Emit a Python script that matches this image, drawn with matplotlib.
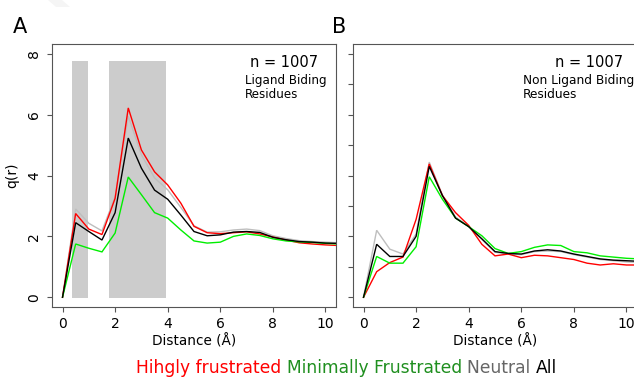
import matplotlib
matplotlib.use("Agg")
import matplotlib.pyplot as plt
from matplotlib.patches import Polygon

# distance grid (Angstrom)
dist = [0, 0.5, 1, 1.5, 2, 2.5, 3, 3.5, 4, 4.5, 5, 5.5, 6, 6.5, 7, 7.5,
        8, 8.5, 9, 9.5, 10, 10.5]

# panel A - ligand binding residues
a_neutral = [0, 2.90, 2.43, 2.18, 3.30, 5.95, 4.68, 3.92, 3.53, 2.95, 2.35,
             2.14, 2.15, 2.21, 2.24, 2.19, 2.02, 1.93, 1.86, 1.83, 1.81, 1.79]
a_high = [0, 2.75, 2.24, 2.06, 3.25, 6.22, 4.84, 4.12, 3.69, 3.09, 2.33,
          2.12, 2.09, 2.12, 2.15, 2.08, 1.98, 1.88, 1.79, 1.75, 1.72, 1.70]
a_all = [0, 2.45, 2.16, 1.88, 2.78, 5.23, 4.24, 3.52, 3.22, 2.70, 2.16,
         2.02, 2.05, 2.14, 2.16, 2.13, 1.97, 1.89, 1.83, 1.81, 1.78, 1.77]
a_min = [0, 1.75, 1.61, 1.49, 2.11, 3.95, 3.37, 2.78, 2.60, 2.21, 1.85,
         1.78, 1.81, 2.00, 2.08, 2.03, 1.92, 1.85, 1.82, 1.80, 1.77, 1.75]

# panel B - non ligand binding residues
b_neutral = [0, 1.10, 0.79, 0.71, 1.04, 2.22, 1.68, 1.32, 1.16, 0.95, 0.74,
             0.71, 0.70, 0.75, 0.76, 0.75, 0.70, 0.66, 0.62, 0.60, 0.58, 0.57]
b_high = [0, 0.42, 0.57, 0.66, 1.28, 2.19, 1.67, 1.39, 1.18, 0.87, 0.68,
          0.71, 0.65, 0.69, 0.68, 0.65, 0.62, 0.56, 0.53, 0.55, 0.53, 0.53]
b_all = [0, 0.87, 0.67, 0.67, 1.00, 2.15, 1.67, 1.30, 1.16, 0.96, 0.75,
         0.72, 0.71, 0.76, 0.78, 0.76, 0.71, 0.67, 0.63, 0.61, 0.60, 0.59]
b_min = [0, 0.67, 0.56, 0.56, 0.83, 1.98, 1.61, 1.30, 1.16, 1.01, 0.80,
         0.72, 0.75, 0.82, 0.86, 0.85, 0.75, 0.73, 0.68, 0.66, 0.64, 0.63]

# shaded distance windows in panel A
shade_spans = [(0.35, 0.95), (1.75, 3.95)]
shade_bottom, shade_top = -0.03, 7.75

legend_words = ["Hihgly frustrated ", "Minimally Frustrated ", "Neutral ", "All"]
legend_colors = ["#ff0000", "#1f8f1f", "#666666", "#000000"]

W, H = 634, 377
fig = plt.figure(figsize=(W / 100, H / 100), dpi=100)


def box(x0, y0, x1, y1):
    return [x0 / W, 1 - y1 / H, (x1 - x0) / W, (y1 - y0) / H]


axA = fig.add_axes(box(52, 44, 336, 307))
axB = fig.add_axes(box(353, 44, 637, 307))


def style(ax):
    for s in ax.spines.values():
        s.set_color("#555555")
        s.set_linewidth(0.8)
    ax.tick_params(length=3.6, width=0.8, color="#555555", labelsize=10,
                   pad=3.5)
    ax.set_xlim(-0.4, 10.4)
    ax.set_xticks([0, 2, 4, 6, 8, 10])
    ax.set_xlabel("Distance (Å)", fontsize=9.8, labelpad=2)


def lines(ax, neu, high, mn, al):
    kw = dict(lw=1.0, solid_joinstyle="miter")
    ax.plot(dist, neu, color="#bebebe", **kw)
    ax.plot(dist, high, color="#ff0000", **kw)
    ax.plot(dist, mn, color="#00ee00", **kw)
    ax.plot(dist, al, color="#000000", **kw)


# panel A
style(axA)
for lo, hi in shade_spans:
    axA.fill_between([lo, hi], shade_bottom, shade_top, color="#cccccc",
                     lw=0, zorder=0.5)
lines(axA, a_neutral, a_high, a_min, a_all)
axA.set_ylim(-0.32, 8.32)
axA.set_yticks([0, 2, 4, 6, 8])
axA.tick_params(axis="y", labelrotation=90, pad=4)
for t in axA.get_yticklabels():
    t.set_va("center")
axA.set_ylabel("q(r)", fontsize=10, labelpad=6)

# panel B
style(axB)
lines(axB, b_neutral, b_high, b_min, b_all)
axB.set_ylim(-0.16, 4.16)
axB.set_yticks([0, 0.5, 1, 1.5, 2, 2.5, 3, 3.5, 4])
axB.set_yticklabels([])

# annotations
fig.text(13 / W, 1 - 33 / H, "A", fontsize=15, va="baseline")
fig.text(332 / W, 1 - 33 / H, "B", fontsize=15, va="baseline")
fig.text(318 / W, 1 - 67 / H, "n = 1007", fontsize=10.5, ha="right", va="baseline")
fig.text(245 / W, 1 - 84 / H, "Ligand Biding", fontsize=8.6, va="baseline")
fig.text(245 / W, 1 - 98 / H, "Residues", fontsize=8.6, va="baseline")
fig.text(623 / W, 1 - 67 / H, "n = 1007", fontsize=10.5, ha="right", va="baseline")
fig.text(523 / W, 1 - 84 / H, "Non Ligand Biding", fontsize=8.7, va="baseline")
fig.text(523 / W, 1 - 98 / H, "Residues", fontsize=8.7, va="baseline")

# coloured legend line at the bottom
renderer = fig.canvas.get_renderer()
xpos = 136.0
for word, col in zip(legend_words, legend_colors):
    t = fig.text(xpos / W, 1 - 373 / H, word, fontsize=12.3, color=col,
                 va="baseline")
    bb = t.get_window_extent(renderer)
    xpos += bb.width

# faint background marks of the source page
fig.patches.append(Polygon([[48 / W, 1], [62 / W, 1], [70 / W, 1 - 7 / H],
                            [56 / W, 1 - 7 / H]], closed=True,
                           transform=fig.transFigure, color="#f5f5f5", lw=0))

fig.savefig("out.png", dpi=100)
